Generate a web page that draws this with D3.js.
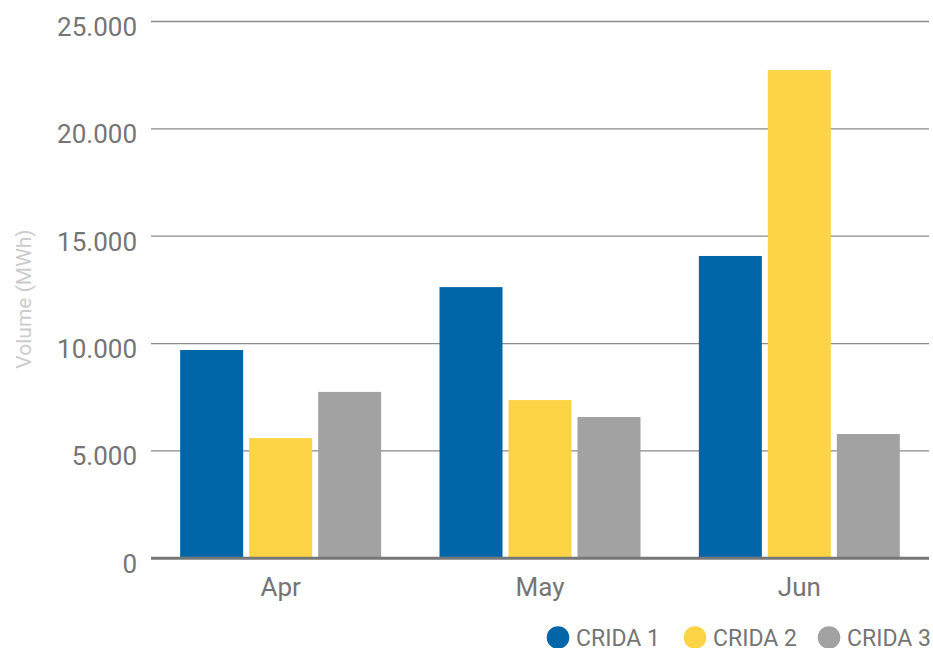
<!DOCTYPE html>
<html lang="en">
<head>
    <meta charset="UTF-8">
    <title>Volume (MWh)</title>
    <script src="https://d3js.org/d3.v7.min.js"></script>
    <style>
        body { margin: 0; padding: 0; background: #ffffff; font-family: Roboto, sans-serif; }
        svg { display: block; }
    </style>
</head>
<body>
    <script>
        const months = ["Apr", "May", "Jun"];
        const seriesNames = ["CRIDA 1", "CRIDA 2", "CRIDA 3"];
        const crida1 = [9700, 12630, 14080];
        const crida2 = [5600, 7370, 22740];
        const crida3 = [7750, 6580, 5790];
        const yTicks = [0, 5000, 10000, 15000, 20000, 25000];
        const colors = ["#0066a8", "#fdd446", "#a2a2a3"];

        const width = 933, height = 648;
        const margin = { top: 21.5, right: 4, bottom: 90, left: 151 };

        const svg = d3.select("body").append("svg")
            .attr("width", width)
            .attr("height", height);

        const x0 = d3.scaleBand()
            .domain(months)
            .range([margin.left, width - margin.right])
            .paddingInner(0.225)
            .paddingOuter(0.1125);

        const x1 = d3.scaleBand()
            .domain(seriesNames)
            .range([0, x0.bandwidth()])
            .paddingInner(0.087);

        const y = d3.scaleLinear()
            .domain([0, 25000])
            .range([558.3, margin.top]);

        const fmt = v => d3.format(",")(v).replace(/,/g, ".");

        // gridlines
        svg.append("g")
            .selectAll("line")
            .data(yTicks.slice(1))
            .join("line")
            .attr("x1", margin.left)
            .attr("x2", width - margin.right)
            .attr("y1", d => y(d))
            .attr("y2", d => y(d))
            .attr("stroke", "#8a8a8a")
            .attr("stroke-width", 1.3);

        // y tick labels
        svg.append("g")
            .selectAll("text")
            .data(yTicks)
            .join("text")
            .attr("x", 137)
            .attr("y", d => y(d) + 14.5)
            .attr("text-anchor", "end")
            .attr("font-size", "26px")
            .attr("fill", "#757575")
            .text(d => fmt(d));

        const data = months.map((m, i) => ({
            month: m,
            values: [crida1[i], crida2[i], crida3[i]]
        }));

        const group = svg.append("g")
            .selectAll("g")
            .data(data)
            .join("g")
            .attr("transform", d => `translate(${x0(d.month)},0)`);

        group.selectAll("rect")
            .data(d => d.values.map((v, i) => ({ key: seriesNames[i], value: v, i })))
            .join("rect")
            .attr("x", d => x1(d.key))
            .attr("y", d => y(d.value))
            .attr("width", x1.bandwidth())
            .attr("height", d => y(0) - y(d.value))
            .attr("fill", d => colors[d.i]);

        // baseline
        svg.append("line")
            .attr("x1", margin.left)
            .attr("x2", width - margin.right)
            .attr("y1", y(0))
            .attr("y2", y(0))
            .attr("stroke", "#777777")
            .attr("stroke-width", 3);

        // x labels
        svg.append("g")
            .selectAll("text")
            .data(months)
            .join("text")
            .attr("x", d => x0(d) + x0.bandwidth() / 2)
            .attr("y", 595.5)
            .attr("text-anchor", "middle")
            .attr("font-size", "26px")
            .attr("fill", "#757575")
            .text(d => d);

        // y axis title
        svg.append("text")
            .attr("transform", "translate(31,299) rotate(-90)")
            .attr("text-anchor", "middle")
            .attr("font-size", "21px")
            .attr("fill", "#cccccc")
            .text("Volume (MWh)");

        // legend
        const legendX = [558, 695, 829];
        const legend = svg.append("g")
            .selectAll("g")
            .data(seriesNames)
            .join("g")
            .attr("transform", (d, i) => `translate(${legendX[i]},637.5)`);

        legend.append("circle")
            .attr("r", 11.3)
            .attr("fill", (d, i) => colors[i]);

        legend.append("text")
            .attr("x", 18)
            .attr("y", 8.5)
            .attr("font-size", "23px")
            .attr("fill", "#757575")
            .text(d => d);
    </script>
</body>
</html>
